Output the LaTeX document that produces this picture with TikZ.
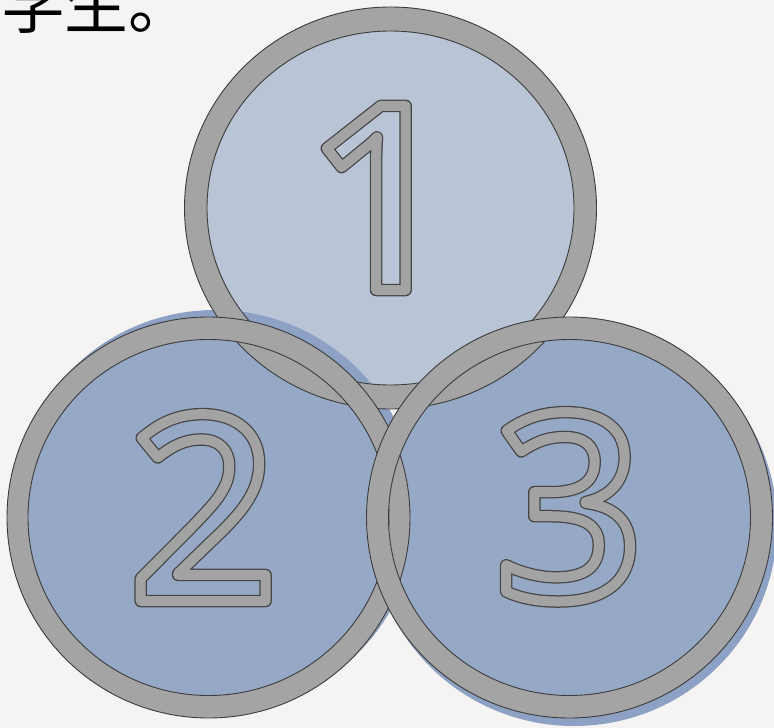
\documentclass[tikz,border=0pt]{standalone}
\usepackage{fontspec}
\newfontfamily\cjkfont{Noto Sans CJK SC}
\IfFontExistsTF{Open Sans SemiBold}{\newfontfamily\digitfont{Open Sans SemiBold}}{%
  \IfFontExistsTF{Open Sans Semibold}{\newfontfamily\digitfont{Open Sans Semibold}}{%
    \newfontfamily\digitfont{Open Sans}}}
\definecolor{paper}{HTML}{F6F4F2}
\definecolor{fillA}{HTML}{B9C4D6}
\definecolor{fillB}{HTML}{95A8C5}
\definecolor{shadowB}{HTML}{8DA1C4}
\definecolor{ringgray}{HTML}{A4A4A4}
\definecolor{edgegray}{HTML}{3C3C3C}
% stroked (hollow) glyphs via PDF text render mode
\newcommand\strokedark[1]{\special{pdf:literal 1 Tr 1 j 12.5 w 0.27 G}#1\special{pdf:literal 0 Tr}}
\newcommand\strokegray[1]{\special{pdf:literal 1 Tr 1 j 10 w 0.64 G}#1\special{pdf:literal 0 Tr}}
\tikzset{
  ringstyle/.style={draw=edgegray, line width=0.9bp, fill=ringgray, even odd rule},
  digitstyle/.style={inner sep=0pt, anchor=base, font=\digitfont\fontsize{259}{259}\selectfont},
}
\begin{document}
\begin{tikzpicture}[x=1bp,y=-1bp]
\useasboundingbox (0,0) rectangle (774,728);
\clip (0,0) rectangle (774,728);
\fill[paper] (0,0) rectangle (774,728);
\coordinate (c1) at (390.5,208);
\coordinate (c2) at (208.5,517.5);
\coordinate (c3) at (569.5,517.5);
\coordinate (s2) at (215,511);
\coordinate (s3) at (574,525);
% discs
\fill[fillA] (c1) ellipse [x radius=206, y radius=201];
\fill[shadowB] (s2) ellipse [x radius=202, y radius=201];
\fill[fillB] (c2) ellipse [x radius=201.5, y radius=200.5];
\fill[shadowB] (s3) ellipse [x radius=203, y radius=201];
\fill[fillB] (c3) ellipse [x radius=203, y radius=200.5];
% rings
\path[ringstyle] (c1) ellipse [x radius=206, y radius=201] (c1) ellipse [x radius=183.5, y radius=177];
\path[ringstyle] (c2) ellipse [x radius=201.5, y radius=200.5] (c2) ellipse [x radius=180.5, y radius=178];
\path[ringstyle] (c3) ellipse [x radius=203, y radius=200.5] (c3) ellipse [x radius=181, y radius=178];
% digits
\node[digitstyle] (d1a) at (381,290) {\strokedark{1}};
\node[digitstyle] (d1) at (381,290) {\strokegray{1}};
\node[digitstyle] (d2a) at (203,601) {\strokedark{2}};
\node[digitstyle] (d2) at (203,601) {\strokegray{2}};
\node[digitstyle] (d3a) at (569,599) {\strokedark{3}};
\node[digitstyle] (d3) at (569,599) {\strokegray{3}};
% cut-off text at top left
\node[inner sep=0pt, anchor=base west, font=\cjkfont\fontsize{64}{64}\selectfont] (title) at (1,29) {学生。};
\end{tikzpicture}
\end{document}
